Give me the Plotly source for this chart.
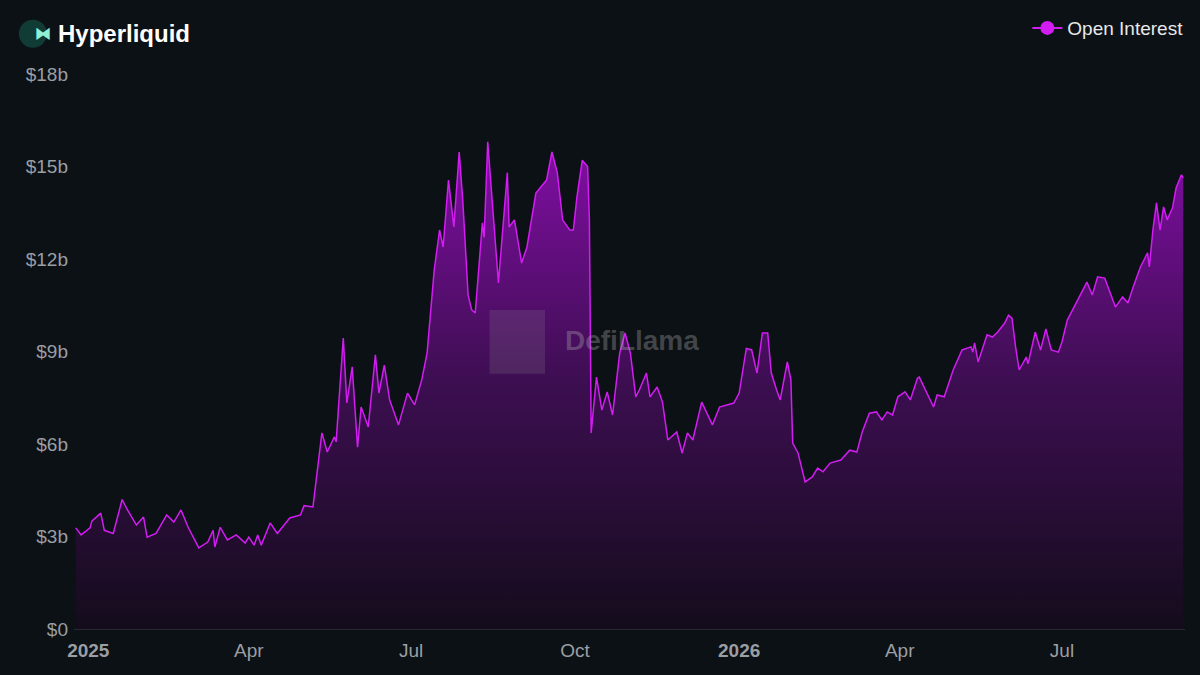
import plotly.graph_objects as go

# Hyperliquid open interest, in billions of USD
dates = [
    "2024-12-25", "2024-12-28", "2025-01-02", "2025-01-03", "2025-01-08", "2025-01-10", "2025-01-15",
    "2025-01-20", "2025-01-23", "2025-01-28", "2025-02-01", "2025-02-03", "2025-02-08", "2025-02-14",
    "2025-02-18", "2025-02-22", "2025-02-26", "2025-03-04", "2025-03-09", "2025-03-12", "2025-03-13",
    "2025-03-16", "2025-03-20", "2025-03-25", "2025-03-30", "2025-04-01", "2025-04-04", "2025-04-06",
    "2025-04-08", "2025-04-13", "2025-04-17", "2025-04-24", "2025-04-30", "2025-05-02", "2025-05-07",
    "2025-05-09", "2025-05-12", "2025-05-15", "2025-05-19", "2025-05-20", "2025-05-24", "2025-05-26",
    "2025-05-29", "2025-06-01", "2025-06-03", "2025-06-07", "2025-06-11", "2025-06-13", "2025-06-16",
    "2025-06-19", "2025-06-24", "2025-06-29", "2025-07-03", "2025-07-07", "2025-07-10", "2025-07-14",
    "2025-07-17", "2025-07-19", "2025-07-22", "2025-07-25", "2025-07-28", "2025-07-30", "2025-08-02",
    "2025-08-04", "2025-08-06", "2025-08-10", "2025-08-11", "2025-08-13", "2025-08-16", "2025-08-19",
    "2025-08-24", "2025-08-25", "2025-08-28", "2025-09-01", "2025-09-04", "2025-09-09", "2025-09-15",
    "2025-09-18", "2025-09-21", "2025-09-24", "2025-09-28", "2025-09-30", "2025-10-02", "2025-10-05",
    "2025-10-08", "2025-10-09", "2025-10-10", "2025-10-13", "2025-10-16", "2025-10-19", "2025-10-22",
    "2025-10-26", "2025-10-29", "2025-11-01", "2025-11-04", "2025-11-06", "2025-11-10", "2025-11-12",
    "2025-11-16", "2025-11-19", "2025-11-22", "2025-11-27", "2025-11-30", "2025-12-03", "2025-12-06",
    "2025-12-11", "2025-12-17", "2025-12-21", "2025-12-29", "2026-01-01", "2026-01-05", "2026-01-08",
    "2026-01-11", "2026-01-14", "2026-01-17", "2026-01-19", "2026-01-22", "2026-01-24", "2026-01-28",
    "2026-01-30", "2026-01-31", "2026-02-03", "2026-02-07", "2026-02-11", "2026-02-14", "2026-02-17",
    "2026-02-21", "2026-02-27", "2026-03-04", "2026-03-08", "2026-03-11", "2026-03-15", "2026-03-19",
    "2026-03-22", "2026-03-25", "2026-03-28", "2026-03-31", "2026-04-04", "2026-04-07", "2026-04-11",
    "2026-04-12", "2026-04-15", "2026-04-20", "2026-04-22", "2026-04-26", "2026-05-01", "2026-05-06",
    "2026-05-11", "2026-05-12", "2026-05-13", "2026-05-15", "2026-05-20", "2026-05-23", "2026-05-26",
    "2026-05-30", "2026-06-01", "2026-06-03", "2026-06-05", "2026-06-07", "2026-06-11", "2026-06-12",
    "2026-06-16", "2026-06-19", "2026-06-22", "2026-06-25", "2026-06-29", "2026-07-01", "2026-07-04",
    "2026-07-07", "2026-07-12", "2026-07-15", "2026-07-18", "2026-07-21", "2026-07-25", "2026-07-28",
    "2026-07-31", "2026-08-04", "2026-08-07", "2026-08-10", "2026-08-14", "2026-08-18", "2026-08-19",
    "2026-08-21", "2026-08-23", "2026-08-25", "2026-08-27", "2026-08-29", "2026-09-01", "2026-09-03",
    "2026-09-06", "2026-09-07",
]
open_interest = [
    3.28, 3.05, 3.28, 3.50, 3.76, 3.20, 3.10,
    4.20, 3.86, 3.37, 3.63, 2.98, 3.10, 3.70,
    3.47, 3.86, 3.30, 2.63, 2.82, 3.20, 2.66,
    3.30, 2.89, 3.05, 2.79, 2.98, 2.72, 3.05,
    2.72, 3.44, 3.10, 3.60, 3.70, 4.00, 3.96,
    4.93, 6.36, 5.74, 6.23, 6.07, 9.44, 7.33,
    8.50, 5.90, 7.20, 6.55, 8.89, 7.65, 8.56,
    7.43, 6.62, 7.65, 7.27, 8.08, 8.95, 11.64,
    12.94, 12.39, 14.56, 13.04, 15.47, 13.90, 10.83,
    10.35, 10.25, 13.17, 12.70, 15.80, 13.60, 11.22,
    14.80, 13.04, 13.27, 11.87, 12.39, 14.14, 14.56,
    15.47, 14.80, 13.27, 12.94, 12.94, 14.00, 15.20,
    15.00, 13.27, 6.36, 8.17, 7.10, 7.69, 6.94,
    8.95, 9.60, 8.95, 7.53, 7.75, 8.30, 7.53,
    7.85, 7.36, 6.13, 6.39, 5.71, 6.36, 6.13,
    7.36, 6.62, 7.20, 7.33, 7.65, 9.10, 9.05,
    8.30, 9.60, 9.60, 8.30, 7.75, 7.43, 8.66,
    8.08, 6.03, 5.71, 4.77, 4.93, 5.22, 5.10,
    5.38, 5.48, 5.80, 5.74, 6.39, 7.00, 7.04,
    6.78, 7.04, 6.94, 7.53, 7.69, 7.43, 8.14,
    8.17, 7.82, 7.20, 7.59, 7.53, 8.40, 9.05,
    9.15, 8.98, 9.28, 8.66, 9.54, 9.47, 9.63,
    9.93, 10.18, 10.08, 9.15, 8.40, 8.82, 8.60,
    9.63, 9.05, 9.73, 9.05, 8.98, 9.31, 10.02,
    10.35, 10.90, 11.25, 10.83, 11.42, 11.38, 10.90,
    10.44, 10.77, 10.57, 11.10, 11.74, 12.20, 11.74,
    12.94, 13.82, 12.94, 13.69, 13.27, 13.66, 14.30,
    14.73, 14.63,
]

y_ticks = [0, 3, 6, 9, 12, 15, 18]
y_labels = ["$0", "$3b", "$6b", "$9b", "$12b", "$15b", "$18b"]
x_ticks = ["2025-01-01", "2025-04-01", "2025-07-01", "2025-10-01",
           "2026-01-01", "2026-04-01", "2026-07-01"]
x_labels = ["<b>2025</b>", "Apr", "Jul", "Oct", "<b>2026</b>", "Apr", "Jul"]

LINE = "#d21cf2"
BG = "#0c1115"
FONT = "Liberation Sans, Arial, sans-serif"

fig = go.Figure()
fig.add_trace(go.Scatter(
    x=dates, y=open_interest, mode="lines", showlegend=False,
    line=dict(color=LINE, width=1.5),
    fill="tozeroy",
    fillgradient=dict(type="vertical",
                      colorscale=[[0, "rgba(20,12,28,1)"], [0.5, "rgba(60,14,80,1)"],
                                  [1, "rgba(130,14,165,1)"]]),
))
# legend entry (line with dot)
fig.add_trace(go.Scatter(
    x=[None], y=[None], mode="lines+markers", name="Open Interest",
    line=dict(color=LINE, width=2), marker=dict(color=LINE, size=14),
))

fig.update_layout(
    width=1200, height=675,
    paper_bgcolor=BG, plot_bgcolor=BG,
    margin=dict(l=74, r=15, t=74, b=46, autoexpand=False),
    font=dict(family=FONT, color="#9b9ea3", size=19),
    legend=dict(x=1.003, y=1.117, xanchor="right", yanchor="top", bgcolor="rgba(0,0,0,0)",
                font=dict(color="#e8e8e8", size=19)),
    hovermode="x",
)
fig.update_xaxes(range=["2024-12-24", "2026-09-08"], tickvals=x_ticks, ticktext=x_labels,
                 showgrid=False, zeroline=False, showline=True, linecolor="#262b30",
                 ticks="", ticklabelstandoff=4)
fig.update_yaxes(range=[0, 18], tickvals=y_ticks, ticktext=y_labels,
                 showgrid=False, zeroline=False, ticks="", ticklabelstandoff=5)

# title with icon
fig.add_shape(type="circle", xref="paper", yref="paper", xsizemode="pixel", ysizemode="pixel",
              xanchor=-0.037, yanchor=1.0725, x0=-14, x1=14, y0=-14, y1=14,
              fillcolor="#113c36", line_width=0)
fig.add_annotation(xref="paper", yref="paper", x=-0.037, y=1.0725, yanchor="middle",
                   text="<b>⧓</b>", showarrow=False, font=dict(color="#8ff0d6", size=16))
fig.add_annotation(xref="paper", yref="paper", x=-0.0165, y=1.0725, xanchor="left",
                   yanchor="middle", text="<b>Hyperliquid</b>", showarrow=False,
                   font=dict(color="#ffffff", size=24, family=FONT))

# watermark
fig.add_shape(type="rect", xref="paper", yref="paper", x0=0.374, x1=0.424, y0=0.46, y1=0.575,
              fillcolor="rgba(150,150,150,0.18)", line_width=0)
fig.add_annotation(xref="paper", yref="paper", x=0.44, y=0.52, xanchor="left",
                   text="<b>DefiLlama</b>", showarrow=False,
                   font=dict(color="rgba(170,170,170,0.35)", size=28, family=FONT))

fig.write_html("out.html", config={"displayModeBar": False},
               post_script="document.body.style.margin='0';"
                           "document.body.style.background='#0c1115';")
